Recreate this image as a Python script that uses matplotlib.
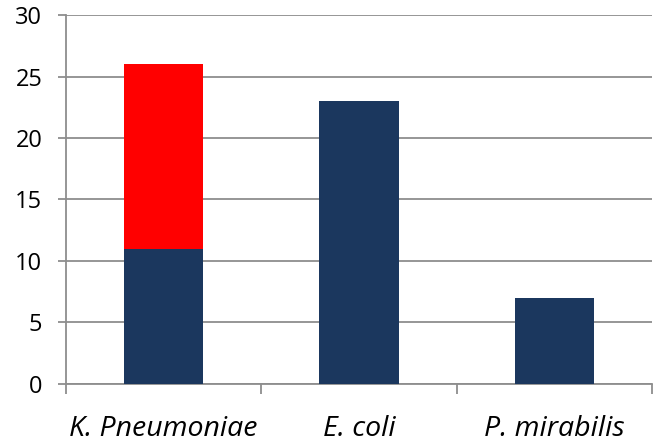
import matplotlib
matplotlib.use("Agg")
import matplotlib.pyplot as plt
import numpy as np

plt.rcParams["font.family"] = ["Open Sans", "DejaVu Sans"]

categories = ["K. Pneumoniae", "E. coli", "P. mirabilis"]
base_counts = [11, 23, 7]
extra_counts = [15, 0, 0]

navy = "#1b375e"
grey = "#8e8e8e"

fig = plt.figure(figsize=(6.54, 4.48), dpi=100)
ax = fig.add_axes([0.1009, 0.1429, 0.896, 0.8236])

x = np.arange(len(categories))
w = 0.405
ax.bar(x, base_counts, width=w, color=navy, zorder=3)
ax.bar(x, extra_counts, width=w, bottom=base_counts, color="#ff0000", zorder=3)

ax.set_xlim(-0.5, len(categories) - 0.5)
ax.set_ylim(0, 30)
ax.set_yticks(np.arange(0, 31, 5))
ax.yaxis.grid(True, color=grey, linewidth=1.3, zorder=0)

ax.set_xticks(x)
ax.set_xticklabels(categories, fontstyle="italic", fontsize=20.5)
ax.tick_params(axis="x", which="major", length=0, pad=22)
ax.set_xticks(np.arange(-0.5, len(categories)), minor=True)
ax.tick_params(axis="x", which="minor", length=7, width=1.3, color=grey)
ax.tick_params(axis="y", length=6, width=1.3, color=grey, labelsize=17, pad=11)

for s in ["top", "right"]:
    ax.spines[s].set_visible(False)
for s in ["left", "bottom"]:
    ax.spines[s].set_color(grey)
    ax.spines[s].set_linewidth(1.3)

fig.savefig("out.png", dpi=100)
